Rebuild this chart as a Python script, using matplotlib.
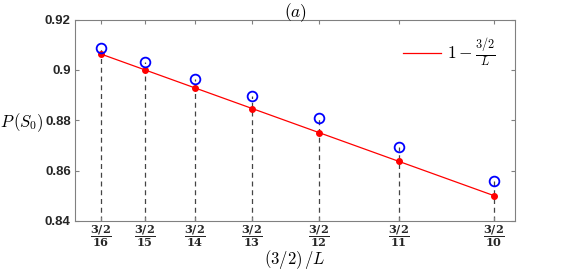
import numpy as np
import matplotlib.pyplot as plt

plt.rcParams['mathtext.fontset'] = 'cm'
plt.rcParams['mathtext.bf'] = 'DejaVu Serif:bold'
plt.rcParams['mathtext.rm'] = 'DejaVu Serif'

# system sizes and measured probabilities
L = np.array([16, 15, 14, 13, 12, 11, 10])
p_sim = [0.9085, 0.9032, 0.8964, 0.8895, 0.8809, 0.8692, 0.8560]
x = 1.5 / L
p_theory = 1 - 1.5 / L
tick_labels = [r'$\dfrac{\mathbf{3/2}}{\mathbf{%d}}$' % n for n in L]

fig = plt.figure(figsize=(5.7, 2.71), dpi=100)
ax = fig.add_axes([0.1316, 0.185, 0.772, 0.743])

# dashed drop lines from each point to the axis
ax.vlines(x, 0.84, p_sim, colors='#444444', linestyles=(0, (4, 3)), linewidth=0.9, zorder=1)
ax.plot(x, p_theory, '-', color='red', linewidth=0.9, label=r'$1-\frac{3/2}{L}$', zorder=2)
ax.plot(x, p_theory, 'o', color='red', markersize=4, zorder=3)
ax.plot(x, p_sim, 'o', mfc='none', mec='blue', mew=1.3, markersize=7, zorder=3)

ax.set_xlim(0.09, 0.153)
ax.set_ylim(0.84, 0.92)
ax.set_xticks(x)
ax.set_xticklabels(tick_labels, fontsize=8.2)
for t in ax.get_xticklabels():
    t.set_math_fontfamily('custom')
ax.set_yticks([0.84, 0.86, 0.88, 0.9, 0.92])
ax.set_yticklabels(['0.84', '0.86', '0.88', '0.9', '0.92'], fontsize=9.5,
                   fontweight='bold', family='Liberation Sans')
ax.tick_params(direction='in', length=3, color='#808080', top=True, right=True,
               labelcolor='#262626', pad=3)
ax.tick_params(axis='x', pad=2)
for s in ax.spines.values():
    s.set_color('#808080')
    s.set_linewidth(0.8)

ax.text(0.5, -0.19, r'$(3/2)\,/L$', transform=ax.transAxes, fontsize=12,
        ha='center', va='center')
ax.text(-0.12, 0.49, r'$P\,(S_0)$', transform=ax.transAxes, fontsize=12,
        ha='center', va='center')
ax.set_title(r'$(a)$', fontsize=12.5, pad=2)

leg = ax.legend(loc='upper right', frameon=False, fontsize=12.5, handlelength=2.2,
                handletextpad=0.3, bbox_to_anchor=(0.99, 0.99))

fig.savefig('out.png', dpi=100)
